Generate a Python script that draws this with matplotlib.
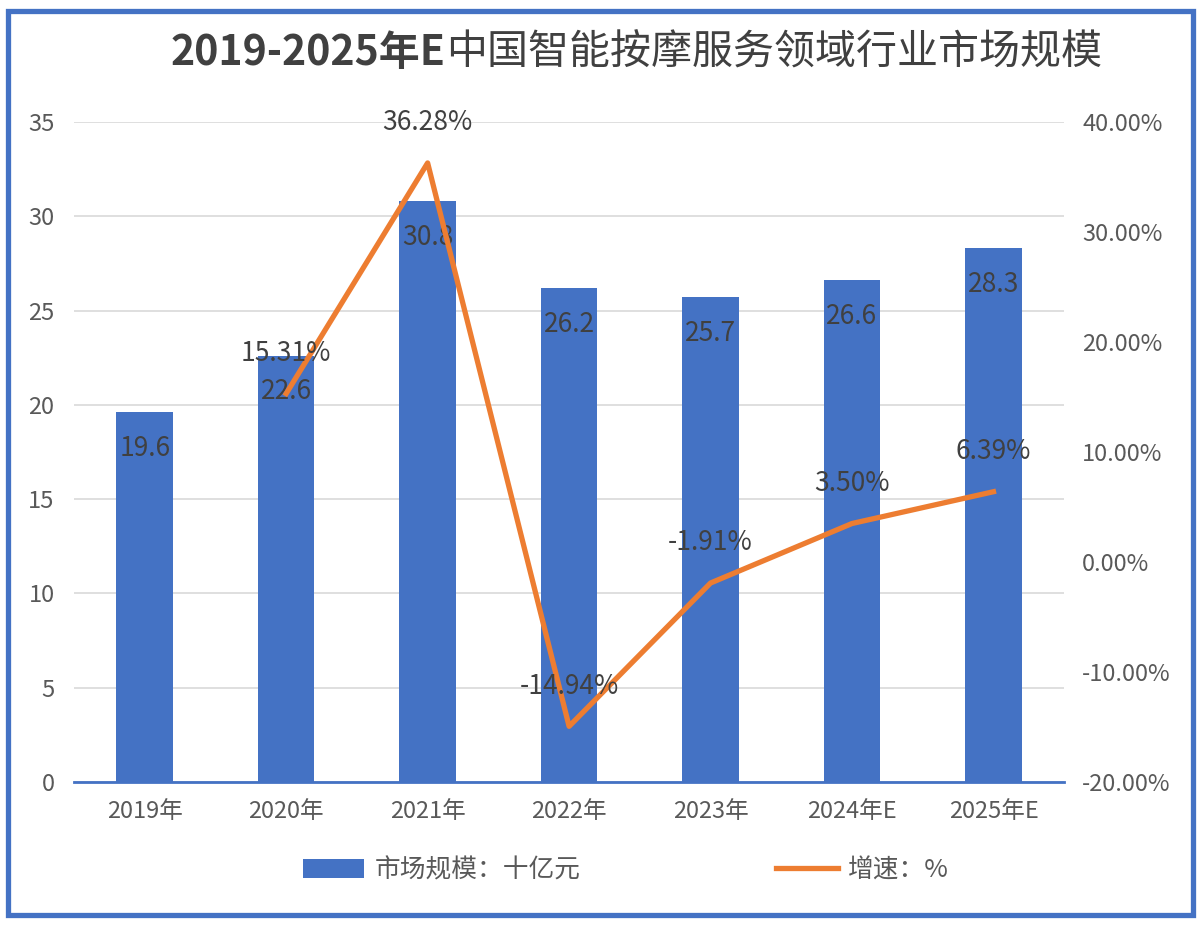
import matplotlib.pyplot as plt
from matplotlib.patches import Rectangle
from matplotlib.ticker import FuncFormatter

plt.rcParams['font.family'] = ['Noto Sans CJK SC', 'DejaVu Sans']

years = ['2019年', '2020年', '2021年', '2022年', '2023年', '2024年E', '2025年E']
market_size = [19.6, 22.6, 30.8, 26.2, 25.7, 26.6, 28.3]   # 十亿元
growth = [None, 15.31, 36.28, -14.94, -1.91, 3.50, 6.39]   # %

BLUE = '#4472C4'
ORANGE = '#ED7D31'
TEXT = '#404040'
TICK = '#595959'

fig = plt.figure(figsize=(12.01, 9.25), dpi=100)
ax = fig.add_axes([0.0616, 0.1546, 0.8245, 0.7135])
ax2 = ax.twinx()

x = list(range(len(years)))

# bars
bars = ax.bar(x, market_size, width=0.4, color=BLUE, zorder=2, label='市场规模：十亿元')
for xi, v in zip(x, market_size):
    ax.annotate(f'{v}', (xi, v), xytext=(0, -26), textcoords='offset points',
                ha='center', va='center', fontsize=19, color=TEXT, zorder=5)

ax.set_xlim(-0.5, len(years) - 0.5)
ax.set_ylim(0, 35)
ax.set_yticks(range(0, 36, 5))
ax.grid(axis='y', color='#D9D9D9', linewidth=1.2, zorder=0)
ax.set_axisbelow(True)
for s in ['left', 'right', 'top']:
    ax.spines[s].set_visible(False)
ax.spines['bottom'].set_color(BLUE)
ax.spines['bottom'].set_linewidth(2)
ax.tick_params(axis='y', length=0, pad=14, labelsize=17, labelcolor=TICK)
ax.tick_params(axis='x', length=0, pad=13, labelsize=17, labelcolor=TICK)
ax.set_xticks(x)
ax.set_xticklabels(years)

# growth line
gx = [xi for xi, g in zip(x, growth) if g is not None]
gy = [g for g in growth if g is not None]
ln, = ax2.plot(gx, gy, color=ORANGE, linewidth=3.8, zorder=4, label='增速：%')
for xi, g in zip(gx, gy):
    ax2.annotate(f'{g:.2f}%', (xi, g), xytext=(0, 29), textcoords='offset points',
                 ha='center', va='center', fontsize=19, color=TEXT, zorder=6)
ax2.set_ylim(-20, 40)
ax2.set_yticks(range(-20, 41, 10))
ax2.yaxis.set_major_formatter(FuncFormatter(lambda v, p: f'{v:.2f}%'))
for s in ['left', 'right', 'top', 'bottom']:
    ax2.spines[s].set_visible(False)
ax2.tick_params(axis='y', length=0, pad=13, labelsize=17, labelcolor=TICK)

# title: bold year part, regular CJK part, centred together
title_a = '2019-2025年E'
title_b = '中国智能按摩服务领域行业市场规模'
renderer = fig.canvas.get_renderer()
ta = fig.text(0, 0.943, title_a, ha='left', va='center', fontsize=29.5,
              fontweight='bold', color=TEXT)
tb = fig.text(0, 0.943, title_b, ha='left', va='center', fontsize=29.5,
              fontweight='normal', color=TEXT)
wa = ta.get_window_extent(renderer).width / fig.bbox.width
wb = tb.get_window_extent(renderer).width / fig.bbox.width
x0 = 0.53 - (wa + wb) / 2
ta.set_x(x0)
tb.set_x(x0 + wa)

# legend
fig.legend([bars, ln], ['市场规模：十亿元', '增速：%'], loc='center', bbox_to_anchor=(0.521, 0.059),
           ncol=2, frameon=False, fontsize=18.5, labelcolor=TICK, columnspacing=7.6,
           handlelength=2.4, handleheight=0.75, handletextpad=0.4)

# outer border
fig.patches.append(Rectangle((0.0065, 0.0107), 0.987, 0.977, transform=fig.transFigure,
                             fill=False, edgecolor=BLUE, linewidth=3.8, zorder=10))

fig.savefig('out.png', dpi=100)
